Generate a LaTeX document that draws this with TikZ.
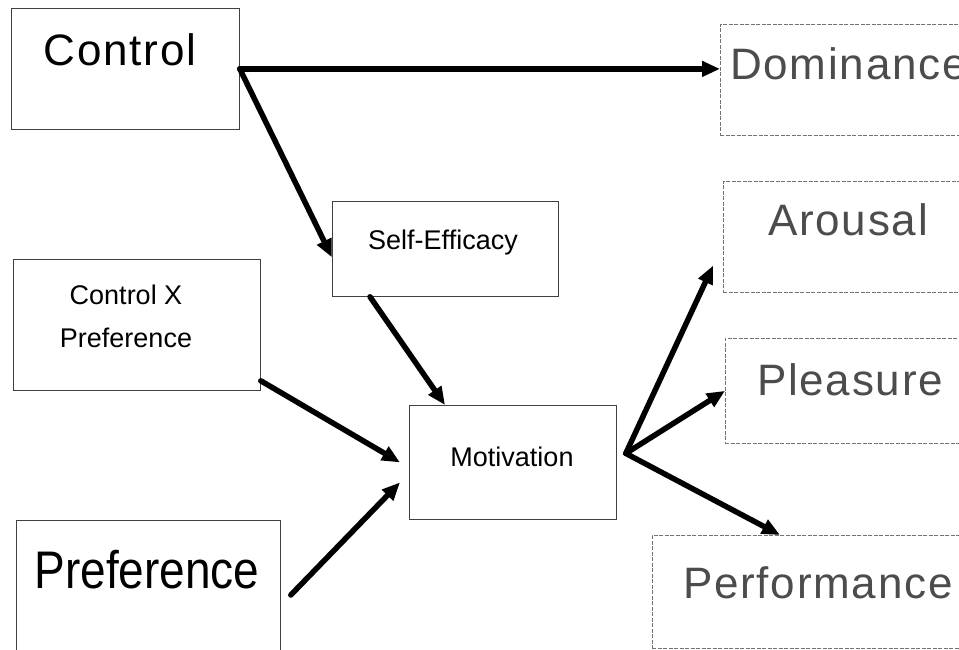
\documentclass[tikz,border=0pt]{standalone}
\usepackage{fontspec}
\setmainfont{Liberation Sans}
\newfontfamily\spacedfont[LetterSpace=4]{Liberation Sans}
\usetikzlibrary{arrows.meta}
\begin{document}
\begin{tikzpicture}[x=1pt,y=-1pt,
  boxL/.style={draw=black!75,line width=0.8pt,rectangle,inner sep=0pt,anchor=north west},
  boxR/.style={draw=black!55,line width=0.7pt,dash pattern=on 4pt off 1.5pt,rectangle,inner sep=0pt,anchor=north west},
  bigtxt/.style={font=\spacedfont\fontsize{44}{48}\selectfont,inner sep=0pt},
  bigfade/.style={bigtxt,text=black!70},
  smalltxt/.style={font=\fontsize{27}{30}\selectfont,inner sep=0pt},
  arr/.style={line width=5.5pt,line cap=round,-{Triangle[length=18pt,width=15pt]}}]
\useasboundingbox[fill=white] (0,0) rectangle (959,650);

% boxes
\node[boxL,minimum width=228pt,minimum height=121pt] (control) at (11,8) {};
\node[boxR,minimum width=300pt,minimum height=111pt] (dom) at (720,24) {};
\node[boxL,minimum width=226pt,minimum height=95pt] (selfeff) at (332,201) {};
\node[boxL,minimum width=247pt,minimum height=131pt] (cxp) at (13,259) {};
\node[boxL,minimum width=207pt,minimum height=114pt] (motiv) at (409,405) {};
\node[boxR,minimum width=300pt,minimum height=111pt] (arousal) at (723,181) {};
\node[boxR,minimum width=300pt,minimum height=105pt] (pleasure) at (725,338) {};
\node[boxL,minimum width=264pt,minimum height=200pt] (pref) at (16,520) {};
\node[boxR,minimum width=400pt,minimum height=113pt] (perf) at (652,535) {};

% labels
\node[bigtxt] (tcontrol) at (120,50) {Control};
\node[bigfade,anchor=west] (tdom) at (730,64) {Dominance};
\node[smalltxt] (tself) at (443,243) {Self-Efficacy};
\node[smalltxt] (tcx1) at (126,295) {Control X};
\node[smalltxt] (tcx2) at (126,338) {Preference};
\node[smalltxt] (tmot) at (512,457) {Motivation};
\node[bigfade] (taro) at (848,220) {Arousal};
\node[bigfade] (tple) at (850,380) {Pleasure};
\node[bigfade,anchor=west] (tperf) at (683,583) {Performance};
\node[inner sep=0pt] (tpref) at (147,570) {\scalebox{1}[1.15]{\fontsize{46}{50}\selectfont Preference}};

% connectors
\coordinate (hub) at ([xshift=9pt,yshift=9pt]motiv.east);
\draw[arr] (control.east) -- (control.east -| dom.west);
\draw[arr] (control.east) -- ([yshift=-8.5pt]selfeff.west);
\draw[arr] ([xshift=38pt]selfeff.south west) -- ([xshift=36pt]motiv.north west);
\draw[arr] ([yshift=10pt]cxp.south east) -- ([xshift=-9pt]motiv.west);
\draw[arr] ([xshift=10pt,yshift=-75pt]pref.north east) -- ([xshift=-9pt,yshift=-20pt]motiv.west);
\draw[arr] (hub) -- ([xshift=-10pt,yshift=27pt]arousal.south west);
\draw[arr] (hub) -- (pleasure.west);
\draw[arr] (hub) -- ([xshift=128pt]perf.north west);
\end{tikzpicture}
\end{document}
